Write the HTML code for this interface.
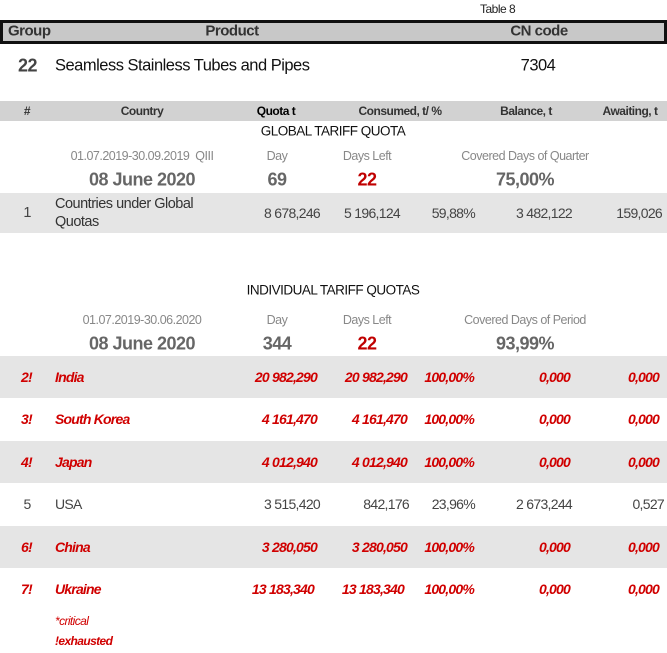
<!DOCTYPE html>
<html><head><meta charset="utf-8"><style>
body{margin:0;width:667px;height:653px;position:relative;background:#fff;font-family:"Liberation Sans",Arial,sans-serif;overflow:hidden}
span{position:absolute;white-space:nowrap;transform:translateY(-50%);letter-spacing:-0.5px}
.c{transform:translate(-50%,-50%)}
.bar{position:absolute;left:0;width:667px}
.h{font-weight:bold;font-size:12px;color:#333}
.lb{font-size:12.5px;color:#888}
.big{font-size:18px;font-weight:bold;color:#666}
.red{color:#c00000}
.rr{color:#d00000;font-weight:bold;font-style:italic;font-size:14px;letter-spacing:-0.8px}
.n{font-size:14px;color:#444;letter-spacing:-0.7px}
</style></head><body>
<span style="left:480px;top:9px;font-size:12px;color:#222">Table 8</span>
<div class="bar" style="top:20px;height:18px;border:3px solid #111;width:661px;background:#c8c8c8"></div>
<span style="left:8px;top:31px;font-size:15px;font-weight:bold;color:#333">Group</span>
<span class="c" style="left:232px;top:31px;font-size:15px;font-weight:bold;color:#333">Product</span>
<span class="c" style="left:539px;top:31px;font-size:15px;font-weight:bold;color:#333">CN code</span>
<span style="left:18px;top:66px;font-size:18px;font-weight:bold;color:#444">22</span>
<span style="left:55px;top:66px;font-size:16.5px;color:#111">Seamless Stainless Tubes and Pipes</span>
<span class="c" style="left:538px;top:66px;font-size:16.5px;color:#111">7304</span>

<div class="bar" style="top:101px;height:20px;background:#d2d2d2"></div>
<span class="h c" style="left:27px;top:111px">#</span>
<span class="h c" style="left:142px;top:111px">Country</span>
<span class="h c" style="left:276px;top:111px;color:#000">Quota t</span>
<span class="h c" style="left:400px;top:111px">Consumed, t/ %</span>
<span class="h c" style="left:526px;top:111px">Balance, t</span>
<span class="h c" style="left:630px;top:111px">Awaiting, t</span>
<span class="c" style="left:333px;top:131px;font-size:13.5px;color:#111">GLOBAL TARIFF QUOTA</span>
<span class="lb c" style="left:142px;top:156px">01.07.2019-30.09.2019&nbsp; QIII</span>
<span class="lb c" style="left:277px;top:156px">Day</span>
<span class="lb c" style="left:367px;top:156px">Days Left</span>
<span class="lb c" style="left:525px;top:156px">Covered Days of Quarter</span>
<span class="big c" style="left:142px;top:180px">08 June 2020</span>
<span class="big c" style="left:277px;top:180px">69</span>
<span class="big c red" style="left:367px;top:180px">22</span>
<span class="big c" style="left:525px;top:180px">75,00%</span>

<div class="bar" style="top:193px;height:40px;background:#e5e5e5"></div>
<span class="n c" style="left:27px;top:213px;font-size:14.5px">1</span>
<span style="left:55px;top:204px;font-size:14.5px;color:#333">Countries under Global</span>
<span style="left:55px;top:222px;font-size:14.5px;color:#333">Quotas</span>
<span class="n" style="right:347px;top:213px">8 678,246</span>
<span class="n" style="right:267px;top:213px">5 196,124</span>
<span class="n" style="right:192px;top:213px">59,88%</span>
<span class="n" style="right:95px;top:213px">3 482,122</span>
<span class="n" style="right:5px;top:213px">159,026</span>

<span class="c" style="left:333px;top:290px;font-size:13.5px;color:#111">INDIVIDUAL TARIFF QUOTAS</span>
<span class="lb c" style="left:142px;top:320px">01.07.2019-30.06.2020</span>
<span class="lb c" style="left:277px;top:320px">Day</span>
<span class="lb c" style="left:367px;top:320px">Days Left</span>
<span class="lb c" style="left:525px;top:320px">Covered Days of Period</span>
<span class="big c" style="left:142px;top:344px">08 June 2020</span>
<span class="big c" style="left:277px;top:344px">344</span>
<span class="big c red" style="left:367px;top:344px">22</span>
<span class="big c" style="left:525px;top:344px">93,99%</span>

<div class="bar" style="top:356px;height:42px;background:#e5e5e5"></div>
<div class="bar" style="top:441px;height:42px;background:#e5e5e5"></div>
<div class="bar" style="top:526px;height:42px;background:#e5e5e5"></div>

<span class="rr" style="left:21px;top:377px">2!</span><span class="rr" style="left:55px;top:377px">India</span>
<span class="rr" style="right:350px;top:377px">20 982,290</span><span class="rr" style="right:260px;top:377px">20 982,290</span>
<span class="rr" style="right:193px;top:377px">100,00%</span><span class="rr" style="right:97px;top:377px">0,000</span><span class="rr" style="right:8px;top:377px">0,000</span>

<span class="rr" style="left:21px;top:419px">3!</span><span class="rr" style="left:55px;top:419px">South Korea</span>
<span class="rr" style="right:350px;top:419px">4 161,470</span><span class="rr" style="right:260px;top:419px">4 161,470</span>
<span class="rr" style="right:193px;top:419px">100,00%</span><span class="rr" style="right:97px;top:419px">0,000</span><span class="rr" style="right:8px;top:419px">0,000</span>

<span class="rr" style="left:21px;top:462px">4!</span><span class="rr" style="left:55px;top:462px">Japan</span>
<span class="rr" style="right:350px;top:462px">4 012,940</span><span class="rr" style="right:260px;top:462px">4 012,940</span>
<span class="rr" style="right:193px;top:462px">100,00%</span><span class="rr" style="right:97px;top:462px">0,000</span><span class="rr" style="right:8px;top:462px">0,000</span>

<span class="n c" style="left:27px;top:504px">5</span><span class="n" style="left:55px;top:504px">USA</span>
<span class="n" style="right:347px;top:504px">3 515,420</span><span class="n" style="right:258px;top:504px">842,176</span>
<span class="n" style="right:192px;top:504px">23,96%</span><span class="n" style="right:95px;top:504px">2 673,244</span><span class="n" style="right:3px;top:504px">0,527</span>

<span class="rr" style="left:21px;top:547px">6!</span><span class="rr" style="left:55px;top:547px">China</span>
<span class="rr" style="right:350px;top:547px">3 280,050</span><span class="rr" style="right:260px;top:547px">3 280,050</span>
<span class="rr" style="right:193px;top:547px">100,00%</span><span class="rr" style="right:97px;top:547px">0,000</span><span class="rr" style="right:8px;top:547px">0,000</span>

<span class="rr" style="left:21px;top:589px">7!</span><span class="rr" style="left:55px;top:589px">Ukraine</span>
<span class="rr" style="right:353px;top:589px">13 183,340</span><span class="rr" style="right:263px;top:589px">13 183,340</span>
<span class="rr" style="right:193px;top:589px">100,00%</span><span class="rr" style="right:97px;top:589px">0,000</span><span class="rr" style="right:8px;top:589px">0,000</span>

<span style="left:55px;top:621px;font-size:12px;font-style:italic;color:#d00000;letter-spacing:-0.6px">*critical</span>
<span style="left:55px;top:641px;font-size:12px;font-style:italic;font-weight:bold;color:#d00000;letter-spacing:-0.6px">!exhausted</span>
</body></html>
